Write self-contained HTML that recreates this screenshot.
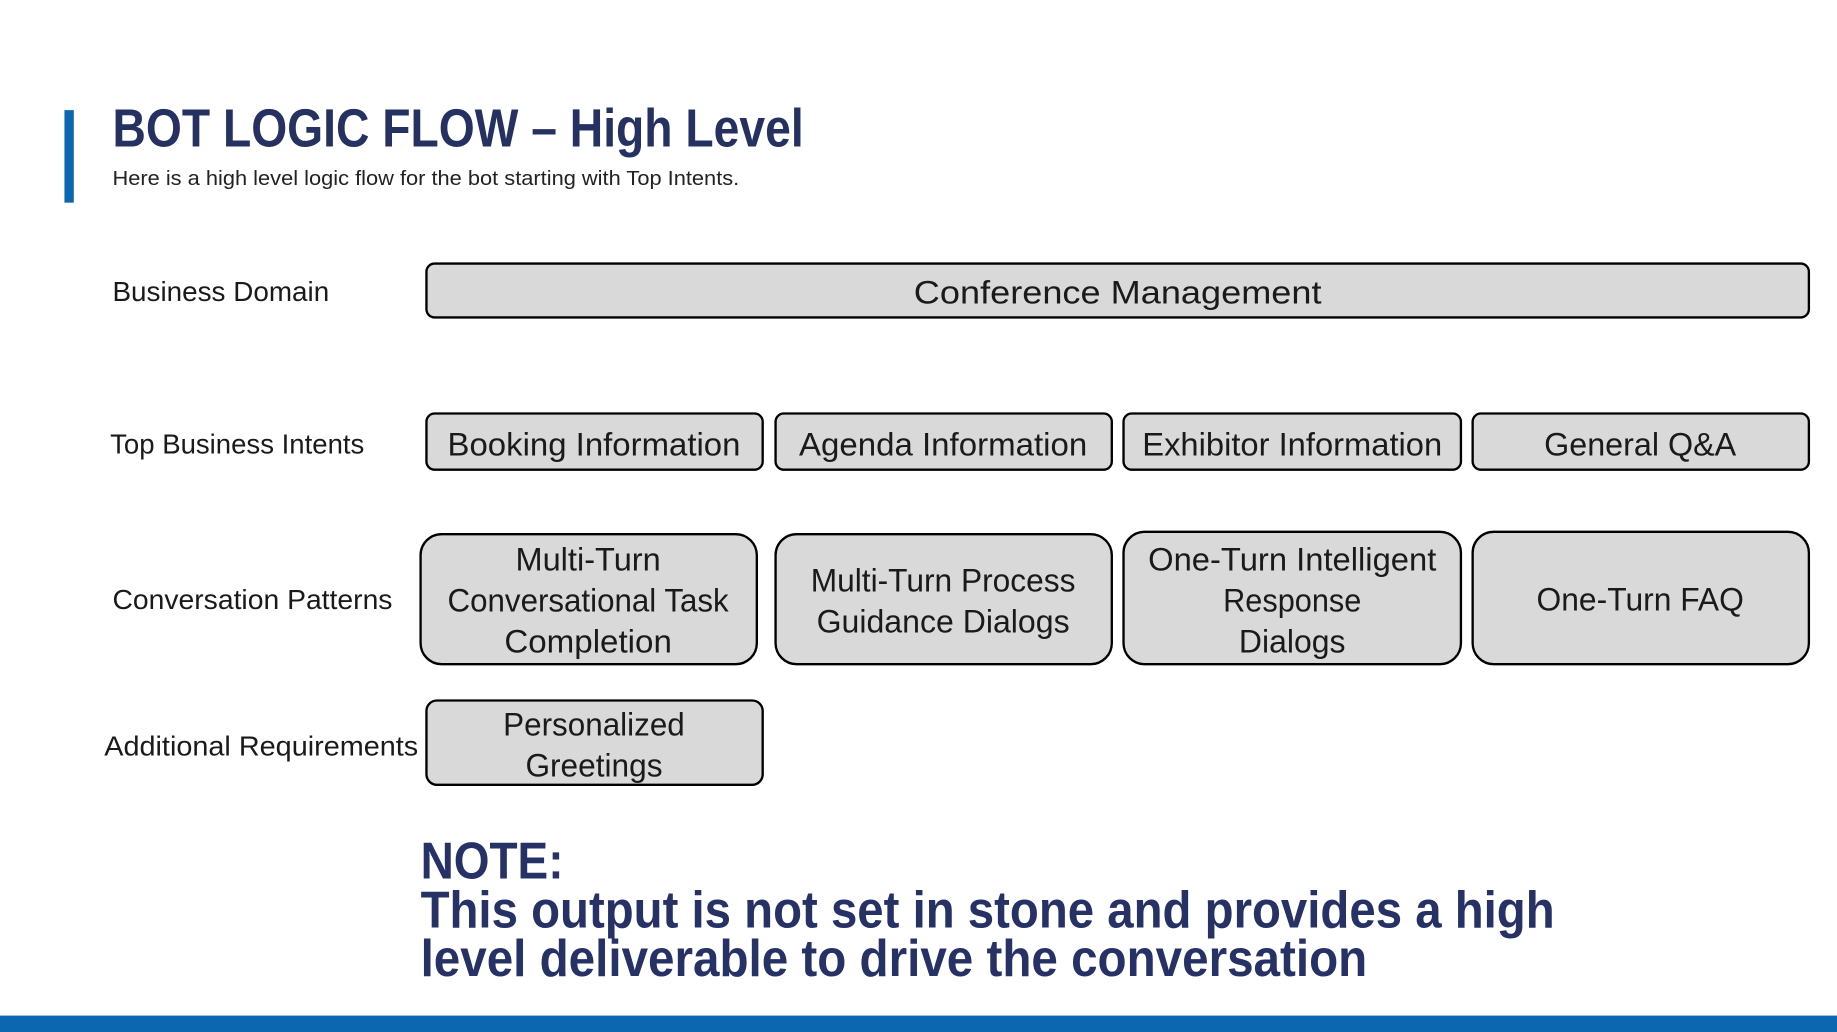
<!DOCTYPE html>
<html><head><meta charset="utf-8"><style>
html,body{margin:0;padding:0;background:#fff;width:1837px;height:1032px;overflow:hidden}
svg{display:block}
text{font-family:"Liberation Sans",sans-serif}
.lbl{font-size:24px;fill:#1a1a1a}
.bx{fill:#d9d9d9;stroke:#000;stroke-width:2}
.bt{font-size:28px;fill:#1a1a1a;text-anchor:middle}
.note{font-size:44px;font-weight:bold;fill:#263166}
</style></head><body>
<svg width="1837" height="1032" viewBox="0 0 1568 881" preserveAspectRatio="none">
<rect x="55" y="94" width="8" height="79" fill="#0a67b0"/>
<text x="96" y="125" font-size="46" font-weight="bold" fill="#253161" textLength="590" lengthAdjust="spacingAndGlyphs">BOT LOGIC FLOW – High Level</text>
<text x="96" y="158" font-size="17" fill="#222" textLength="535" lengthAdjust="spacingAndGlyphs">Here is a high level logic flow for the bot starting with Top Intents.</text>

<text class="lbl" x="96" y="257" textLength="185" lengthAdjust="spacingAndGlyphs">Business Domain</text>
<text class="lbl" x="94" y="387" textLength="217" lengthAdjust="spacingAndGlyphs">Top Business Intents</text>
<text class="lbl" x="96" y="520" textLength="239" lengthAdjust="spacingAndGlyphs">Conversation Patterns</text>
<text class="lbl" x="89" y="645" textLength="268" lengthAdjust="spacingAndGlyphs">Additional Requirements</text>

<g>
<rect class="bx" x="364" y="225" width="1180" height="46" rx="7"/>
<text class="bt" x="954" y="259" font-size="30" textLength="348" lengthAdjust="spacingAndGlyphs">Conference Management</text>
</g>

<g>
<rect class="bx" x="364" y="353" width="287" height="48" rx="7"/>
<text class="bt" x="507" y="389" textLength="250" lengthAdjust="spacingAndGlyphs">Booking Information</text></g>
<g>
<rect class="bx" x="662" y="353" width="287" height="48" rx="7"/>
<text class="bt" x="805" y="389" textLength="246" lengthAdjust="spacingAndGlyphs">Agenda Information</text></g>
<g>
<rect class="bx" x="959" y="353" width="288" height="48" rx="7"/>
<text class="bt" x="1103" y="389" textLength="256" lengthAdjust="spacingAndGlyphs">Exhibitor Information</text></g>
<g>
<rect class="bx" x="1257" y="353" width="287" height="48" rx="7"/>
<text class="bt" x="1400" y="389" textLength="164" lengthAdjust="spacingAndGlyphs">General Q&amp;A</text></g>

<g>
<rect class="bx" x="359" y="456" width="287" height="111" rx="18"/>
<text class="bt" x="502" y="487" textLength="124" lengthAdjust="spacingAndGlyphs">Multi-Turn</text>
<text class="bt" x="502" y="522" textLength="240" lengthAdjust="spacingAndGlyphs">Conversational Task</text>
<text class="bt" x="502" y="557" textLength="143" lengthAdjust="spacingAndGlyphs">Completion</text></g>
<g>
<rect class="bx" x="662" y="456" width="287" height="111" rx="18"/>
<text class="bt" x="805" y="505" textLength="226" lengthAdjust="spacingAndGlyphs">Multi-Turn Process</text>
<text class="bt" x="805" y="540" textLength="216" lengthAdjust="spacingAndGlyphs">Guidance Dialogs</text></g>
<g>
<rect class="bx" x="959" y="454" width="288" height="113" rx="18"/>
<text class="bt" x="1103" y="487" textLength="246" lengthAdjust="spacingAndGlyphs">One-Turn Intelligent</text>
<text class="bt" x="1103" y="522" textLength="118" lengthAdjust="spacingAndGlyphs">Response</text>
<text class="bt" x="1103" y="557" textLength="91" lengthAdjust="spacingAndGlyphs">Dialogs</text></g>
<g>
<rect class="bx" x="1257" y="454" width="287" height="113" rx="18"/>
<text class="bt" x="1400" y="521" textLength="177" lengthAdjust="spacingAndGlyphs">One-Turn FAQ</text></g>

<g>
<rect class="bx" x="364" y="598" width="287" height="72" rx="9"/>
<text class="bt" x="507" y="628" textLength="155" lengthAdjust="spacingAndGlyphs">Personalized</text>
<text class="bt" x="507" y="663" textLength="117" lengthAdjust="spacingAndGlyphs">Greetings</text></g>

<g>
<text class="note" x="359" y="750" textLength="122" lengthAdjust="spacingAndGlyphs">NOTE:</text>
<text class="note" x="359" y="792" textLength="968" lengthAdjust="spacingAndGlyphs">This output is not set in stone and provides a high</text>
<text class="note" x="359" y="833" textLength="808" lengthAdjust="spacingAndGlyphs">level deliverable to drive the conversation</text>
</g>
<rect x="0" y="867" width="1568" height="14" fill="#0a67b0"/>
</svg>
</body></html>
